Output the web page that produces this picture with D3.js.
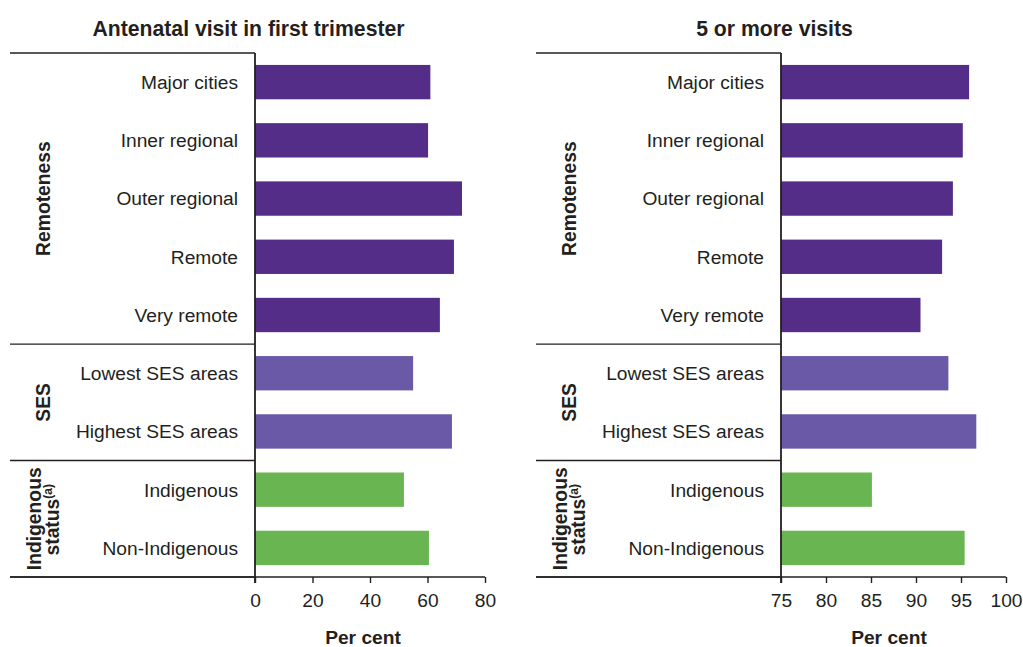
<!DOCTYPE html>
<html>
<head>
<meta charset="utf-8">
<script src="https://cdn.jsdelivr.net/npm/d3@7/dist/d3.min.js"></script>
<style>
  html, body { margin: 0; padding: 0; background: #fff; }
  svg { display: block; font-family: "Liberation Sans", Arial, Helvetica, sans-serif; }
</style>
</head>
<body>
<svg id="chart" width="1023" height="647"></svg>
<script>
// ---- Data ----
const categories = ["Major cities", "Inner regional", "Outer regional", "Remote", "Very remote",
                    "Lowest SES areas", "Highest SES areas", "Indigenous", "Non-Indigenous"];
const categoryGroup = ["Remoteness", "Remoteness", "Remoteness", "Remoteness", "Remoteness",
                       "SES", "SES", "Indigenous", "Indigenous"];
const groupNames = ["Remoteness", "SES", "Indigenous"];
const firstTrimester = [61, 60.2, 72, 69.2, 64.3, 55, 68.5, 51.8, 60.5];
const fiveOrMoreVisits = [95.9, 95.2, 94.1, 92.9, 90.5, 93.6, 96.7, 85.1, 95.4];
const leftTicks = [0, 20, 40, 60, 80];
const rightTicks = [75, 80, 85, 90, 95, 100];
const panelTitles = ["Antenatal visit in first trimester", "5 or more visits"];
const axisTitle = "Per cent";

const groupColor = { "Remoteness": "#532D88", "SES": "#6959A6", "Indigenous": "#69B551" };
const ink = "#231F20";

const svg = d3.select("#chart");

function drawPanel(offset, values, domain, ticks, axisRight, title, axisTitleX) {
  const g = svg.append("g").attr("transform", `translate(${offset},0)`);
  const top = 53, bottom = 577, axisX = 255, lineLeft = 10;
  const x = d3.scaleLinear().domain(domain).range([axisX, axisRight]);
  const y = d3.scaleBand().domain(categories).range([top, bottom])
              .paddingInner(0.41).paddingOuter(0.205);

  // bars
  g.selectAll("rect.bar").data(categories).enter().append("rect")
    .attr("class", "bar")
    .attr("x", x(domain[0]))
    .attr("y", d => y(d))
    .attr("height", y.bandwidth())
    .attr("width", (d, i) => x(values[i]) - x(domain[0]))
    .attr("fill", (d, i) => groupColor[categoryGroup[i]]);

  // category labels
  g.selectAll("text.cat").data(categories).enter().append("text")
    .attr("class", "cat")
    .attr("x", axisX - 17)
    .attr("y", d => y(d) + y.bandwidth() / 2)
    .attr("dy", "0.36em")
    .attr("text-anchor", "end")
    .attr("font-size", "19.2px")
    .attr("fill", ink)
    .text(d => d);

  // group separator lines
  const step = y.step();
  const boundaries = [top];
  groupNames.forEach(gn => {
    const idx = categoryGroup.lastIndexOf(gn);
    boundaries.push(idx === categories.length - 1 ? bottom : y(categories[idx]) + y.bandwidth() + step * 0.205);
  });
  boundaries.forEach((b, i) => {
    g.append("line")
      .attr("x1", lineLeft).attr("x2", axisX)
      .attr("y1", b).attr("y2", b)
      .attr("stroke", ink).attr("stroke-width", 1.4);
  });

  // group labels (rotated)
  const gl = groupNames.map((gn, i) => ({ gn, y0: boundaries[i], y1: boundaries[i + 1] }));
  gl.forEach(d => {
    const cy = (d.y0 + d.y1) / 2;
    if (d.gn === "Indigenous") {
      g.append("text")
        .attr("transform", `translate(41,${cy}) rotate(-90)`)
        .attr("text-anchor", "middle").attr("font-weight", "bold")
        .attr("font-size", "19.3px").attr("fill", ink).text("Indigenous");
      const t2 = g.append("text")
        .attr("transform", `translate(59,${cy + 1}) rotate(-90)`)
        .attr("text-anchor", "middle").attr("font-weight", "bold")
        .attr("font-size", "19.3px").attr("fill", ink);
      t2.append("tspan").text("status");
      t2.append("tspan").attr("font-size", "12px").attr("dy", "-0.6em").text("(a)");
    } else {
      g.append("text")
        .attr("transform", `translate(50,${cy}) rotate(-90)`)
        .attr("text-anchor", "middle").attr("font-weight", "bold")
        .attr("font-size", "19.3px").attr("fill", ink).text(d.gn);
    }
  });

  // vertical axis line
  g.append("line")
    .attr("x1", axisX).attr("x2", axisX)
    .attr("y1", top).attr("y2", bottom + 6)
    .attr("stroke", ink).attr("stroke-width", 1.8);

  // bottom axis
  const axis = d3.axisBottom(x).tickValues(ticks).tickSize(6).tickPadding(10).tickSizeOuter(0);
  const ag = g.append("g").attr("transform", `translate(0,${bottom})`).call(axis);
  ag.select(".domain").remove();
  ag.selectAll(".tick line").attr("stroke", ink).attr("stroke-width", 1.4);
  ag.selectAll(".tick text").attr("font-size", "19.2px").attr("fill", ink)
    .attr("font-family", "\"Liberation Sans\", Arial, sans-serif");
  g.append("line")
    .attr("x1", lineLeft).attr("x2", axisRight)
    .attr("y1", bottom).attr("y2", bottom)
    .attr("stroke", ink).attr("stroke-width", 1.4);

  // axis title
  g.append("text")
    .attr("x", axisTitleX).attr("y", 644)
    .attr("text-anchor", "middle").attr("font-weight", "bold")
    .attr("font-size", "19.2px").attr("fill", ink).text(axisTitle);

  // panel title
  g.append("text")
    .attr("x", 248.5).attr("y", 36)
    .attr("text-anchor", "middle").attr("font-weight", "bold")
    .attr("font-size", "21.2px").attr("fill", ink).text(title);
}

drawPanel(0, firstTrimester, [0, 80], leftTicks, 485, panelTitles[0], 363);
drawPanel(526, fiveOrMoreVisits, [75, 100], rightTicks, 480, panelTitles[1], 363);
</script>
</body>
</html>
